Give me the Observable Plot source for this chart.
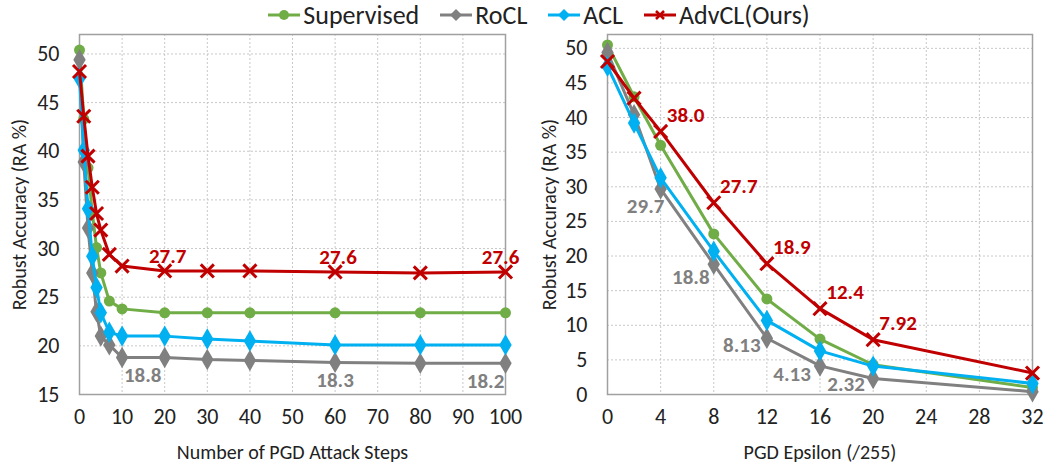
<!DOCTYPE html>
<html>
<head>
<meta charset="utf-8">
<script src="https://cdn.jsdelivr.net/npm/d3@7"></script>
<script src="https://cdn.jsdelivr.net/npm/@observablehq/plot@0.6"></script>
<style>
  html, body { margin: 0; padding: 0; background: #fff; }
  body { width: 1047px; height: 471px; overflow: hidden; font-family: Carlito, Calibri, Lato, "Noto Sans", sans-serif; }
  #legend { height: 30px; display: flex; align-items: center; justify-content: center; padding-left: 30px; gap: 20px; font-size: 26px; color: #222; }
  #legend .item { display: flex; align-items: center; gap: 2px; }
  #charts { display: flex; }
  g[aria-label="x-axis label"] text, g[aria-label="y-axis label"] text { font-size: 20px; }
</style>
</head>
<body>
<div id="legend"></div>
<div id="charts"></div>
<script>
// ---------- data ----------
const seriesNames = ["Supervised", "RoCL", "ACL", "AdvCL(Ours)"];
const seriesColors = ["#70AD47", "#808080", "#00B0F0", "#C00000"];
const seriesSymbols = ["circle", "diamond", "diamond", "times"];

// left panel: number of PGD attack steps
const steps = [0, 1, 2, 3, 4, 5, 7, 10, 20, 30, 40, 60, 80, 100];
const stepSupervised = [50.4, 43.3, 38.3, 33.7, 30.1, 27.5, 24.6, 23.8, 23.4, 23.4, 23.4, 23.4, 23.4, 23.4];
const stepRoCL       = [49.4, 38.9, 32.1, 27.5, 23.5, 21.0, 20.1, 18.8, 18.8, 18.6, 18.5, 18.3, 18.2, 18.2];
const stepACL        = [47.5, 40.1, 34.1, 29.2, 26.0, 23.4, 21.4, 21.0, 21.0, 20.7, 20.5, 20.1, 20.1, 20.1];
const stepAdvCL      = [48.2, 43.6, 39.5, 36.3, 33.6, 31.9, 29.4, 28.2, 27.7, 27.7, 27.7, 27.6, 27.5, 27.6];

// right panel: PGD epsilon (/255)
const eps = [0, 2, 4, 8, 12, 16, 20, 32];
const epsSupervised = [50.5, 43.0, 36.0, 23.2, 13.8, 8.0, 4.3, 1.0];
const epsRoCL       = [49.4, 40.4, 29.7, 18.8, 8.13, 4.13, 2.32, 0.4];
const epsACL        = [47.4, 39.2, 31.3, 20.7, 10.7, 6.3, 4.1, 1.6];
const epsAdvCL      = [48.1, 42.8, 38.0, 27.7, 18.9, 12.4, 7.92, 3.1];

// tick values
const stepTicks = [0, 10, 20, 30, 40, 50, 60, 70, 80, 90, 100];
const stepYTicks = [15, 20, 25, 30, 35, 40, 45, 50];
const epsTicks = [0, 4, 8, 12, 16, 20, 24, 28, 32];
const epsYTicks = [0, 5, 10, 15, 20, 25, 30, 35, 40, 45, 50];

// annotations: [x, value, text, series index]
const stepLabels = [
  [20, 27.7, "27.7", 3], [60, 27.6, "27.6", 3], [100, 27.6, "27.6", 3],
  [20, 18.8, "18.8", 1], [60, 18.3, "18.3", 1], [100, 18.2, "18.2", 1]
];
const epsLabels = [
  [4, 38.0, "38.0", 3], [8, 27.7, "27.7", 3], [12, 18.9, "18.9", 3], [16, 12.4, "12.4", 3], [20, 7.92, "7.92", 3],
  [4, 29.7, "29.7", 1], [8, 18.8, "18.8", 1], [12, 8.13, "8.13", 1], [16, 4.13, "4.13", 1], [20, 2.32, "2.32", 1]
];

// ---------- build ----------
const font = "Carlito, Calibri, Lato, 'Noto Sans', sans-serif";

function longData(xs, arrays) {
  const out = [];
  arrays.forEach((arr, si) => arr.forEach((v, i) => out.push({x: xs[i], y: v, s: si})));
  return out;
}

function seriesMarks(data) {
  const marks = [];
  for (let si = 0; si < 4; si++) {
    const d = data.filter(r => r.s === si);
    marks.push(Plot.line(d, {x: "x", y: "y", stroke: seriesColors[si], strokeWidth: 3}));
    if (seriesSymbols[si] === "times") {
      marks.push(Plot.dot(d, {x: "x", y: "y", symbol: "times", r: 6, stroke: seriesColors[si], strokeWidth: 3, fill: "none"}));
    } else if (seriesSymbols[si] === "circle") {
      marks.push(Plot.dot(d, {x: "x", y: "y", symbol: "circle", r: 5.5, fill: seriesColors[si], stroke: "none"}));
    } else {
      marks.push(Plot.dot(d, {x: "x", y: "y", symbol: "diamond", r: 6.5, fill: seriesColors[si], stroke: "none"}));
    }
  }
  return marks;
}

function panel(opts) {
  const data = longData(opts.xs, opts.arrays);
  const labs = opts.labels.map(([x, y, t, s]) => ({x, y, t, s}));
  return Plot.plot({
    width: opts.width, height: 441,
    marginLeft: opts.marginLeft, marginRight: opts.marginRight, marginTop: 4, marginBottom: 77,
    style: {fontFamily: font, fontSize: "22px", color: "#222", background: "#fff"},
    x: {domain: opts.xDomain},
    y: {domain: opts.yDomain},
    marks: [
      Plot.gridX(opts.xTicks, {stroke: "#c8c8c8", strokeOpacity: 1, strokeDasharray: "2,2"}),
      Plot.gridY(opts.yTicks, {stroke: "#c8c8c8", strokeOpacity: 1, strokeDasharray: "2,2"}),
      Plot.frame({stroke: "#a0a0a0", strokeWidth: 1.5}),
      Plot.axisX(opts.xTicks, {tickSize: 0, tickPadding: 14, label: opts.xLabel, labelAnchor: "center", labelArrow: "none", labelOffset: 64, fill: "#222"}),
      Plot.axisY(opts.yTicks, {tickSize: 0, tickPadding: 20, label: opts.yLabel, labelAnchor: "center", labelArrow: "none", labelOffset: opts.yLabelOffset, fill: "#222"}),
      ...seriesMarks(data),
      ...labs.map(l => Plot.text([l], {
        x: "x", y: "y", text: "t",
        fill: seriesColors[l.s], fontWeight: "bold", fontSize: 21,
        dx: opts.dx(l), dy: opts.dy(l), textAnchor: "middle"
      }))
    ]
  });
}

const left = panel({
  width: 530, marginLeft: 79, marginRight: 25,
  xs: steps, arrays: [stepSupervised, stepRoCL, stepACL, stepAdvCL],
  xDomain: [0, 100], yDomain: [15, 52], xTicks: stepTicks, yTicks: stepYTicks,
  xLabel: "Number of PGD Attack Steps", yLabel: "Robust Accuracy (RA %)", yLabelOffset: 68,
  labels: stepLabels,
  dx: l => l.s === 3 ? (l.x === 100 ? -5 : 3) : (l.x === 20 ? -22 : (l.x === 100 ? -20 : 0)),
  dy: l => l.s === 3 ? -15 : 18
});

const right = panel({
  width: 517, marginLeft: 77, marginRight: 15,
  xs: eps, arrays: [epsSupervised, epsRoCL, epsACL, epsAdvCL],
  xDomain: [0, 32], yDomain: [0, 52], xTicks: epsTicks, yTicks: epsYTicks,
  xLabel: "PGD Epsilon (/255)", yLabel: "Robust Accuracy (RA %)", yLabelOffset: 66,
  labels: epsLabels,
  dx: l => l.s === 3 ? 25 : ({4: -15, 8: -23, 12: -25, 16: -28, 20: -27})[l.x],
  dy: l => l.s === 3 ? -16 : ({4: 17, 8: 13, 12: 7, 16: 8, 20: 6})[l.x]
});

document.getElementById("charts").append(left, right);

// ---------- legend ----------
const legend = document.getElementById("legend");
seriesNames.forEach((name, i) => {
  const item = document.createElement("div");
  item.className = "item";
  const sw = d3.create("svg").attr("width", 34).attr("height", 16);
  sw.append("line").attr("x1", 1).attr("x2", 33).attr("y1", 8).attr("y2", 8)
    .attr("stroke", seriesColors[i]).attr("stroke-width", 3);
  if (seriesSymbols[i] === "circle") {
    sw.append("circle").attr("cx", 17).attr("cy", 8).attr("r", 5).attr("fill", seriesColors[i]);
  } else if (seriesSymbols[i] === "diamond") {
    sw.append("path").attr("d", "M17,2L23,8L17,14L11,8Z").attr("fill", seriesColors[i]);
  } else {
    sw.append("path").attr("d", "M13,4L21,12M21,4L13,12").attr("stroke", seriesColors[i]).attr("stroke-width", 2.5);
  }
  item.append(sw.node());
  const t = document.createElement("span");
  t.textContent = name;
  item.append(t);
  legend.append(item);
});
</script>
</body>
</html>
